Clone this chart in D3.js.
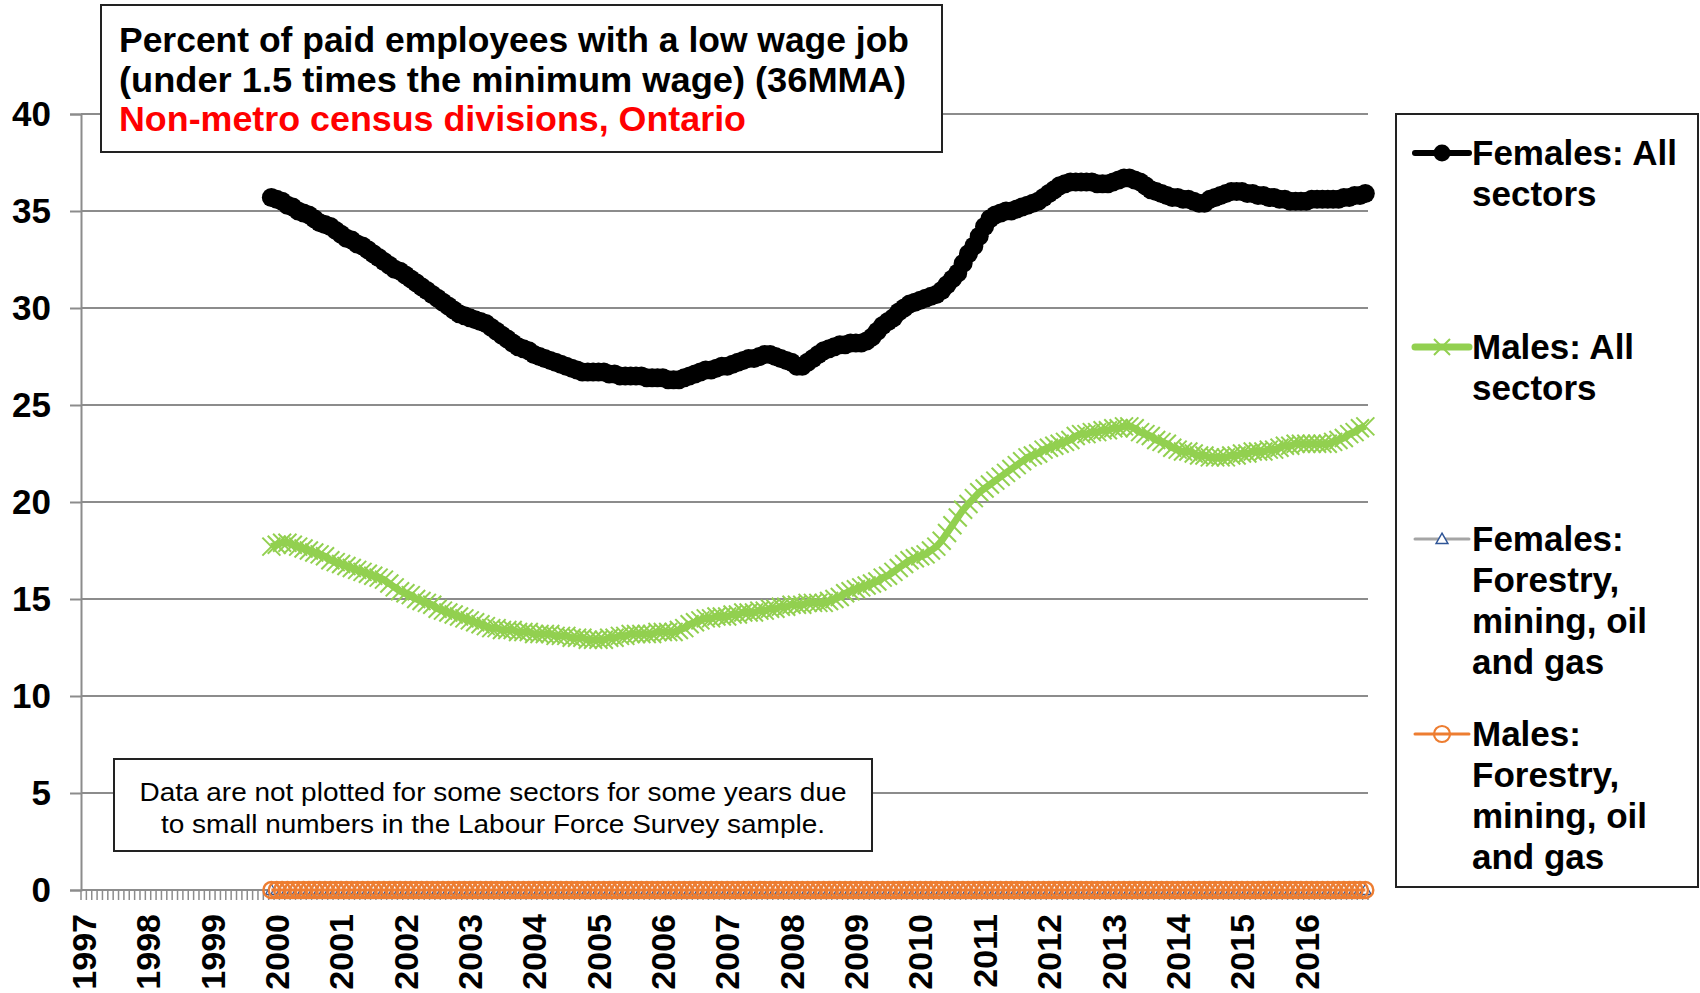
<!DOCTYPE html>
<html>
<head>
<meta charset="utf-8">
<script src="https://cdn.jsdelivr.net/npm/d3@7"></script>
<style>
  html, body { margin: 0; padding: 0; background: #fff; }
  svg { display: block; font-family: "Liberation Sans", Arial, sans-serif; }
</style>
</head>
<body>
<div id="chart"></div>
<script>
// categories: monthly, Jan 1997 .. Dec 2016
const years = [1997, 1998, 1999, 2000, 2001, 2002, 2003, 2004, 2005, 2006,
               2007, 2008, 2009, 2010, 2011, 2012, 2013, 2014, 2015, 2016];
const monthNums = ["01", "02", "03", "04", "05", "06", "07", "08", "09", "10", "11", "12"];
const categories = years.flatMap(y => monthNums.map(m => y + "-" + m));
const seriesStart = "1999-12";

const yTicks = [0, 5, 10, 15, 20, 25, 30, 35, 40];

// 36 month moving averages, Dec 1999 then one row per year 2000..2016
const femalesAll = [35.7,
  35.6, 35.5, 35.3, 35.2, 35.0, 34.9, 34.8, 34.6, 34.4, 34.3, 34.2, 34.0,
  33.8, 33.6, 33.5, 33.3, 33.2, 33.0, 32.8, 32.6, 32.4, 32.2, 32.0, 31.9,
  31.7, 31.5, 31.3, 31.1, 30.9, 30.7, 30.5, 30.3, 30.1, 29.9, 29.7, 29.6,
  29.5, 29.4, 29.3, 29.2, 29.0, 28.8, 28.6, 28.4, 28.2, 28.0, 27.9, 27.8,
  27.6, 27.5, 27.4, 27.3, 27.2, 27.1, 27.0, 26.9, 26.8, 26.7, 26.7, 26.7,
  26.7, 26.7, 26.6, 26.6, 26.5, 26.5, 26.5, 26.5, 26.5, 26.4, 26.4, 26.4,
  26.4, 26.3, 26.3, 26.3, 26.4, 26.5, 26.6, 26.7, 26.8, 26.8, 26.9, 27.0,
  27.0, 27.1, 27.2, 27.3, 27.4, 27.4, 27.5, 27.6, 27.6, 27.5, 27.4, 27.3,
  27.2, 27.0, 27.0, 27.2, 27.4, 27.6, 27.8, 27.9, 28.0, 28.1, 28.1, 28.2,
  28.2, 28.2, 28.3, 28.5, 28.8, 29.1, 29.3, 29.5, 29.8, 30.0, 30.2, 30.3,
  30.4, 30.5, 30.6, 30.7, 30.9, 31.2, 31.5, 31.8, 32.3, 32.8, 33.2, 33.7,
  34.2, 34.6, 34.8, 34.9, 35.0, 35.0, 35.1, 35.2, 35.3, 35.4, 35.5, 35.7,
  35.9, 36.1, 36.3, 36.4, 36.5, 36.5, 36.5, 36.5, 36.5, 36.4, 36.4, 36.4,
  36.5, 36.6, 36.7, 36.7, 36.6, 36.5, 36.3, 36.1, 36.0, 35.9, 35.8, 35.7,
  35.7, 35.6, 35.6, 35.5, 35.4, 35.4, 35.6, 35.7, 35.8, 35.9, 36.0, 36.0,
  36.0, 35.9, 35.9, 35.8, 35.8, 35.7, 35.7, 35.6, 35.6, 35.5, 35.5, 35.5,
  35.5, 35.6, 35.6, 35.6, 35.6, 35.6, 35.6, 35.7, 35.7, 35.8, 35.8, 35.9];

const malesAll = [17.7,
  17.8, 17.9, 17.9, 17.8, 17.7, 17.6, 17.5, 17.4, 17.3, 17.2, 17.0, 16.9,
  16.8, 16.7, 16.6, 16.5, 16.4, 16.3, 16.2, 16.1, 16.0, 15.8, 15.6, 15.4,
  15.3, 15.2, 15.0, 14.9, 14.8, 14.7, 14.5, 14.4, 14.3, 14.2, 14.1, 14.0,
  13.9, 13.8, 13.7, 13.6, 13.5, 13.5, 13.4, 13.4, 13.4, 13.3, 13.3, 13.3,
  13.2, 13.2, 13.2, 13.2, 13.1, 13.1, 13.1, 13.0, 13.0, 13.0, 12.9, 12.9,
  12.9, 12.9, 13.0, 13.0, 13.1, 13.1, 13.2, 13.2, 13.2, 13.2, 13.2, 13.3,
  13.3, 13.3, 13.3, 13.4, 13.5, 13.7, 13.8, 13.9, 14.0, 14.0, 14.1, 14.1,
  14.1, 14.2, 14.2, 14.3, 14.3, 14.3, 14.4, 14.4, 14.5, 14.5, 14.6, 14.6,
  14.7, 14.7, 14.7, 14.8, 14.8, 14.8, 14.8, 14.9, 15.0, 15.1, 15.3, 15.4,
  15.5, 15.6, 15.7, 15.8, 15.9, 16.1, 16.2, 16.4, 16.6, 16.8, 17.0, 17.1,
  17.2, 17.3, 17.5, 17.7, 18.0, 18.4, 18.8, 19.2, 19.6, 19.9, 20.2, 20.5,
  20.7, 20.9, 21.1, 21.3, 21.5, 21.7, 21.9, 22.1, 22.3, 22.4, 22.5, 22.7,
  22.8, 22.9, 23.0, 23.1, 23.2, 23.4, 23.5, 23.5, 23.6, 23.6, 23.7, 23.7,
  23.8, 23.8, 23.9, 23.9, 23.8, 23.6, 23.5, 23.4, 23.2, 23.1, 23.0, 22.8,
  22.7, 22.6, 22.6, 22.5, 22.4, 22.4, 22.3, 22.3, 22.3, 22.3, 22.4, 22.4,
  22.5, 22.5, 22.6, 22.6, 22.6, 22.7, 22.7, 22.8, 22.9, 22.9, 23.0, 23.0,
  23.0, 23.0, 23.0, 23.0, 23.0, 23.1, 23.2, 23.3, 23.5, 23.6, 23.8, 23.9];

// sector series too small to publish, they show up as zeros
const femalesForestry = [0,
  0, 0, 0, 0, 0, 0, 0, 0, 0, 0, 0, 0,
  0, 0, 0, 0, 0, 0, 0, 0, 0, 0, 0, 0,
  0, 0, 0, 0, 0, 0, 0, 0, 0, 0, 0, 0,
  0, 0, 0, 0, 0, 0, 0, 0, 0, 0, 0, 0,
  0, 0, 0, 0, 0, 0, 0, 0, 0, 0, 0, 0,
  0, 0, 0, 0, 0, 0, 0, 0, 0, 0, 0, 0,
  0, 0, 0, 0, 0, 0, 0, 0, 0, 0, 0, 0,
  0, 0, 0, 0, 0, 0, 0, 0, 0, 0, 0, 0,
  0, 0, 0, 0, 0, 0, 0, 0, 0, 0, 0, 0,
  0, 0, 0, 0, 0, 0, 0, 0, 0, 0, 0, 0,
  0, 0, 0, 0, 0, 0, 0, 0, 0, 0, 0, 0,
  0, 0, 0, 0, 0, 0, 0, 0, 0, 0, 0, 0,
  0, 0, 0, 0, 0, 0, 0, 0, 0, 0, 0, 0,
  0, 0, 0, 0, 0, 0, 0, 0, 0, 0, 0, 0,
  0, 0, 0, 0, 0, 0, 0, 0, 0, 0, 0, 0,
  0, 0, 0, 0, 0, 0, 0, 0, 0, 0, 0, 0,
  0, 0, 0, 0, 0, 0, 0, 0, 0, 0, 0, 0];

const malesForestry = [0,
  0, 0, 0, 0, 0, 0, 0, 0, 0, 0, 0, 0,
  0, 0, 0, 0, 0, 0, 0, 0, 0, 0, 0, 0,
  0, 0, 0, 0, 0, 0, 0, 0, 0, 0, 0, 0,
  0, 0, 0, 0, 0, 0, 0, 0, 0, 0, 0, 0,
  0, 0, 0, 0, 0, 0, 0, 0, 0, 0, 0, 0,
  0, 0, 0, 0, 0, 0, 0, 0, 0, 0, 0, 0,
  0, 0, 0, 0, 0, 0, 0, 0, 0, 0, 0, 0,
  0, 0, 0, 0, 0, 0, 0, 0, 0, 0, 0, 0,
  0, 0, 0, 0, 0, 0, 0, 0, 0, 0, 0, 0,
  0, 0, 0, 0, 0, 0, 0, 0, 0, 0, 0, 0,
  0, 0, 0, 0, 0, 0, 0, 0, 0, 0, 0, 0,
  0, 0, 0, 0, 0, 0, 0, 0, 0, 0, 0, 0,
  0, 0, 0, 0, 0, 0, 0, 0, 0, 0, 0, 0,
  0, 0, 0, 0, 0, 0, 0, 0, 0, 0, 0, 0,
  0, 0, 0, 0, 0, 0, 0, 0, 0, 0, 0, 0,
  0, 0, 0, 0, 0, 0, 0, 0, 0, 0, 0, 0,
  0, 0, 0, 0, 0, 0, 0, 0, 0, 0, 0, 0];

const seriesNames = [
  ["Females: All", "sectors"],
  ["Males: All", "sectors"],
  ["Females:", "Forestry,", "mining, oil", "and gas"],
  ["Males:", "Forestry,", "mining, oil", "and gas"]
];

const titleLines = ["Percent of paid employees with a low wage job",
                    "(under 1.5 times the minimum wage)  (36MMA)",
                    "Non-metro census divisions, Ontario"];
const noteLines = ["Data are not plotted for some sectors for some years due",
                   "to small numbers in the Labour Force Survey sample."];

const width = 1700, height = 993;
const plot = { left: 81, right: 1368, top: 114, bottom: 890 };
const gridColor = "#8c8c8c";

const svg = d3.select("#chart").append("svg")
  .attr("width", width)
  .attr("height", height);

const x = d3.scaleBand()
  .domain(categories)
  .range([plot.left, plot.right])
  .padding(0);
const y = d3.scaleLinear()
  .domain([0, 40])
  .range([plot.bottom, plot.top]);
const cx = c => x(c) + x.bandwidth() / 2;

const startIdx = categories.indexOf(seriesStart);
const toPoints = vals => vals.map((v, i) => ({ c: categories[startIdx + i], v: v }));

// gridlines
svg.append("g")
  .selectAll("line")
  .data(yTicks.filter(d => d > 0))
  .enter().append("line")
    .attr("x1", plot.left).attr("x2", plot.right)
    .attr("y1", d => y(d)).attr("y2", d => y(d))
    .attr("stroke", gridColor).attr("stroke-width", 2);

// y axis
const yAxis = svg.append("g")
  .attr("transform", `translate(${plot.left},0)`)
  .call(d3.axisLeft(y).tickValues(yTicks).tickSize(11).tickPadding(19));
yAxis.select(".domain").attr("stroke", gridColor).attr("stroke-width", 2);
yAxis.selectAll(".tick line").attr("stroke", gridColor).attr("stroke-width", 2);
yAxis.selectAll(".tick text")
  .attr("fill", "#000")
  .style("font-size", "35px")
  .style("font-weight", "bold")
  .style("font-family", "'Liberation Sans', Arial, sans-serif");

// x axis: a tick between every month, a label on each January
const xg = svg.append("g");
xg.selectAll("line.mtick")
  .data(categories)
  .enter().append("line")
    .attr("class", "mtick")
    .attr("x1", d => x(d)).attr("x2", d => x(d))
    .attr("y1", plot.bottom).attr("y2", plot.bottom + 10)
    .attr("stroke", gridColor).attr("stroke-width", 1.5);
xg.append("line")
  .attr("x1", plot.right).attr("x2", plot.right)
  .attr("y1", plot.bottom).attr("y2", plot.bottom + 10)
  .attr("stroke", gridColor).attr("stroke-width", 1.5);
xg.append("line")
  .attr("x1", plot.left).attr("x2", plot.right)
  .attr("y1", plot.bottom).attr("y2", plot.bottom)
  .attr("stroke", gridColor).attr("stroke-width", 2);
xg.selectAll("text")
  .data(years)
  .enter().append("text")
    .attr("transform", d => `translate(${cx(d + "-01")},914) rotate(-90)`)
    .attr("text-anchor", "end")
    .attr("dy", "0.36em")
    .style("font-size", "34px")
    .style("font-weight", "bold")
    .text(d => d);

const line = d3.line().x(d => cx(d.c)).y(d => y(d.v));

// Females: forestry (grey line, blue hollow triangles)
const ff = toPoints(femalesForestry);
svg.append("path").datum(ff)
  .attr("d", line).attr("fill", "none")
  .attr("stroke", "#a5a5a5").attr("stroke-width", 3);
const tri = d3.symbol().type(d3.symbolTriangle).size(60);
svg.append("g").selectAll("path")
  .data(ff).enter().append("path")
    .attr("d", tri)
    .attr("transform", d => `translate(${cx(d.c)},${y(d.v) + 1})`)
    .attr("fill", "#fff").attr("stroke", "#2f5597").attr("stroke-width", 1.3);

// Males: forestry (orange line, hollow circles)
const mf = toPoints(malesForestry);
svg.append("path").datum(mf)
  .attr("d", line).attr("fill", "none")
  .attr("stroke", "#ed7d31").attr("stroke-width", 3);
svg.append("g").selectAll("circle")
  .data(mf).enter().append("circle")
    .attr("cx", d => cx(d.c)).attr("cy", d => y(d.v))
    .attr("r", 8)
    .attr("fill", "none").attr("stroke", "#ed7d31").attr("stroke-width", 2.4);

// Males: all sectors (green line, x markers)
const ma = toPoints(malesAll);
svg.append("path").datum(ma)
  .attr("d", line).attr("fill", "none")
  .attr("stroke", "#92d050").attr("stroke-width", 7)
  .attr("stroke-linejoin", "round");
svg.append("g").selectAll("path")
  .data(ma).enter().append("path")
    .attr("d", "M-9,-9L9,9M-9,9L9,-9")
    .attr("transform", d => `translate(${cx(d.c)},${y(d.v)})`)
    .attr("fill", "none").attr("stroke", "#92d050").attr("stroke-width", 2);

// Females: all sectors (black line, filled circles)
const fa = toPoints(femalesAll);
svg.append("path").datum(fa)
  .attr("d", line).attr("fill", "none")
  .attr("stroke", "#000").attr("stroke-width", 6)
  .attr("stroke-linejoin", "round");
svg.append("g").selectAll("circle")
  .data(fa).enter().append("circle")
    .attr("cx", d => cx(d.c)).attr("cy", d => y(d.v))
    .attr("r", 9.5).attr("fill", "#000");

// title box
const tb = svg.append("g");
tb.append("rect")
  .attr("x", 101).attr("y", 5).attr("width", 841).attr("height", 147)
  .attr("fill", "#fff").attr("stroke", "#222").attr("stroke-width", 2);
const titleW = [790, 787, 627];
titleLines.forEach((t, i) => {
  tb.append("text")
    .attr("x", 119).attr("y", 52 + i * 39.5)
    .attr("textLength", titleW[i])
    .attr("lengthAdjust", "spacingAndGlyphs")
    .attr("fill", i === 2 ? "#ff0000" : "#000")
    .style("font-size", "35px")
    .style("font-weight", "bold")
    .text(t);
});

// note box
const nb = svg.append("g");
nb.append("rect")
  .attr("x", 114).attr("y", 759).attr("width", 758).attr("height", 92)
  .attr("fill", "#fff").attr("stroke", "#222").attr("stroke-width", 2);
const noteW = [707, 664];
noteLines.forEach((t, i) => {
  nb.append("text")
    .attr("x", 493).attr("y", 801 + i * 32)
    .attr("text-anchor", "middle")
    .attr("textLength", noteW[i])
    .attr("lengthAdjust", "spacingAndGlyphs")
    .style("font-size", "26px")
    .text(t);
});

// legend
const lg = svg.append("g");
lg.append("rect")
  .attr("x", 1396).attr("y", 114).attr("width", 302).attr("height", 773)
  .attr("fill", "#fff").attr("stroke", "#222").attr("stroke-width", 2);
const legendY = [153, 347, 539, 734];
const legendStyles = [
  { stroke: "#000", sw: 6, marker: "dot" },
  { stroke: "#92d050", sw: 7, marker: "x" },
  { stroke: "#a5a5a5", sw: 3, marker: "tri" },
  { stroke: "#ed7d31", sw: 3, marker: "ring" }
];
seriesNames.forEach((lines, i) => {
  const ly = legendY[i], st = legendStyles[i];
  lg.append("line")
    .attr("x1", 1415).attr("x2", 1469).attr("y1", ly).attr("y2", ly)
    .attr("stroke", st.stroke).attr("stroke-width", st.sw)
    .attr("stroke-linecap", "round");
  if (st.marker === "dot") {
    lg.append("circle").attr("cx", 1442).attr("cy", ly).attr("r", 8.5).attr("fill", "#000");
  } else if (st.marker === "x") {
    lg.append("path").attr("d", "M-8,-8L8,8M-8,8L8,-8")
      .attr("transform", `translate(1442,${ly})`)
      .attr("stroke", "#92d050").attr("stroke-width", 2);
  } else if (st.marker === "tri") {
    lg.append("path").attr("d", tri)
      .attr("transform", `translate(1442,${ly + 1})`)
      .attr("fill", "#fff").attr("stroke", "#2f5597").attr("stroke-width", 1.5);
  } else {
    lg.append("circle").attr("cx", 1442).attr("cy", ly).attr("r", 8)
      .attr("fill", "none").attr("stroke", "#ed7d31").attr("stroke-width", 2.2);
  }
  lines.forEach((t, j) => {
    lg.append("text")
      .attr("x", 1472).attr("y", ly + 12 + j * 41)
      .style("font-size", "35px")
      .style("font-weight", "bold")
      .text(t);
  });
});
</script>
</body>
</html>
